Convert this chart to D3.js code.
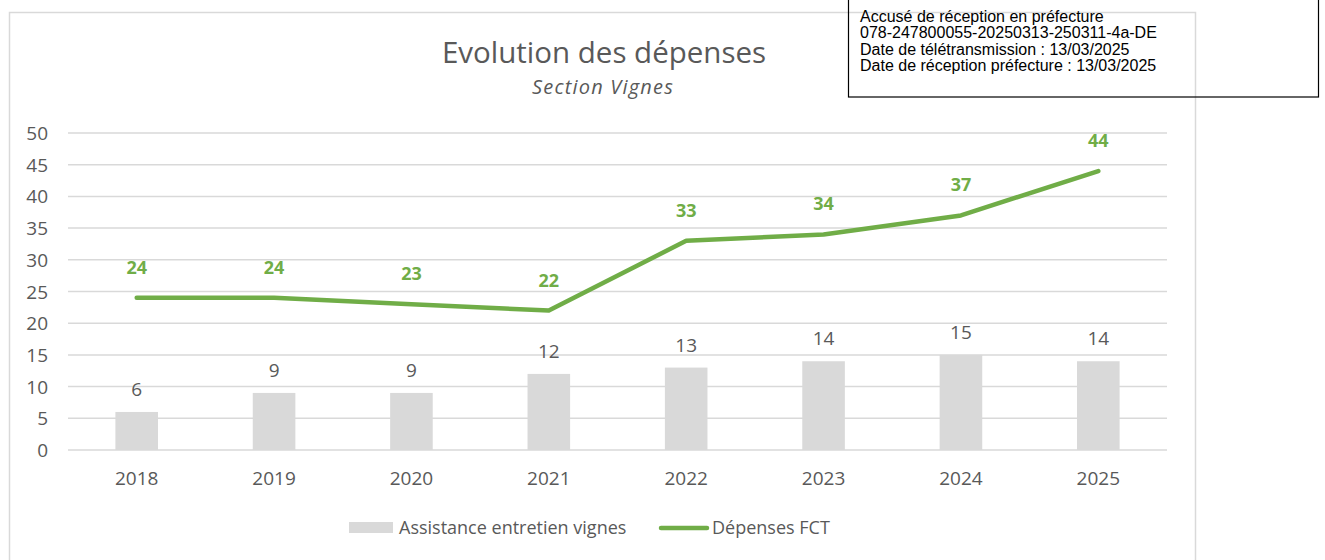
<!DOCTYPE html>
<html lang="fr">
<head>
    <meta charset="UTF-8">
    <title>Evolution des dépenses</title>
    <script src="https://cdn.jsdelivr.net/npm/d3@7"></script>
    <style>
        body {margin: 0; background: white}
        text {font-family: "Open Sans", Lato, sans-serif; fill: #595959}
        .stamp text {font-family: "Liberation Sans", Arial, sans-serif; fill: black; font-size: 16px}
    </style>
</head>
<body>
<script>
    const years    = ["2018", "2019", "2020", "2021", "2022", "2023", "2024", "2025"];
    const assistance = [6, 9, 9, 12, 13, 14, 15, 14];
    const depenses   = [24, 24, 23, 22, 33, 34, 37, 44];
    const yTicks     = [0, 5, 10, 15, 20, 25, 30, 35, 40, 45, 50];
    const stampLines = [
        "Accusé de réception en préfecture",
        "078-247800055-20250313-250311-4a-DE",
        "Date de télétransmission : 13/03/2025",
        "Date de réception préfecture : 13/03/2025"
    ];

    const width = 1325, height = 560;
    const green = "#70ad47", grey = "#d9d9d9";

    const svg = d3.select("body").append("svg")
        .attr("width", width).attr("height", height);

    // chart frame
    svg.append("rect")
        .attr("x", 9.5).attr("y", 12.5)
        .attr("width", 1186).attr("height", 570)
        .style("fill", "white").style("stroke", grey).style("stroke-width", 1.5);

    const x = d3.scaleBand().domain(years).range([68, 1167])
        .paddingInner(0.69).paddingOuter(0.345);
    const y = d3.scaleLinear().domain([0, 50]).range([450, 133]);
    const cx = d => x(d) + x.bandwidth() / 2;

    // title
    svg.append("text").attr("x", 604).attr("y", 63)
        .style("text-anchor", "middle").style("font-size", "29.5px")
        .text("Evolution des dépenses");
    svg.append("text").attr("x", 603).attr("y", 94)
        .style("text-anchor", "middle").style("font-size", "20px").style("font-style", "italic")
        .style("letter-spacing", "1.2px")
        .text("Section Vignes");

    // gridlines + y labels
    svg.append("g").selectAll("line").data(yTicks).join("line")
        .attr("x1", 68).attr("x2", 1167)
        .attr("y1", d => y(d)).attr("y2", d => y(d))
        .style("stroke", grey).style("stroke-width", 1.5);

    svg.append("g").selectAll("text").data(yTicks).join("text")
        .attr("x", 48).attr("y", d => y(d) + 7)
        .style("text-anchor", "end").style("font-size", "19px")
        .text(d => d);

    // x labels
    svg.append("g").selectAll("text").data(years).join("text")
        .attr("x", cx).attr("y", 485)
        .style("text-anchor", "middle").style("font-size", "19px")
        .text(d => d);

    // bars
    svg.append("g").selectAll("rect").data(years).join("rect")
        .attr("x", d => x(d)).attr("width", x.bandwidth())
        .attr("y", (d, i) => y(assistance[i]))
        .attr("height", (d, i) => y(0) - y(assistance[i]))
        .style("fill", grey);

    svg.append("g").selectAll("text").data(years).join("text")
        .attr("x", cx).attr("y", (d, i) => y(assistance[i]) - 16)
        .style("text-anchor", "middle").style("font-size", "19px")
        .text((d, i) => assistance[i]);

    // line
    const line = d3.line().x(d => cx(d[0])).y(d => y(d[1]));
    svg.append("path")
        .datum(years.map((d, i) => [d, depenses[i]]))
        .attr("d", line)
        .style("fill", "none").style("stroke", green)
        .style("stroke-width", 4.5).style("stroke-linecap", "round").style("stroke-linejoin", "round");

    svg.append("g").selectAll("text").data(years).join("text")
        .attr("x", cx).attr("y", (d, i) => y(depenses[i]) - 24)
        .style("text-anchor", "middle").style("font-size", "18px").style("font-weight", "bold")
        .style("fill", green)
        .text((d, i) => depenses[i]);

    // legend
    const legend = svg.append("g");
    legend.append("rect").attr("x", 349).attr("y", 522).attr("width", 44).attr("height", 11)
        .style("fill", grey);
    legend.append("text").attr("x", 399).attr("y", 534).style("font-size", "18px")
        .text("Assistance entretien vignes");
    legend.append("line").attr("x1", 661).attr("x2", 707).attr("y1", 528).attr("y2", 528)
        .style("stroke", green).style("stroke-width", 4.5).style("stroke-linecap", "round");
    legend.append("text").attr("x", 712).attr("y", 534).style("font-size", "18px")
        .text("Dépenses FCT");

    // reception stamp
    const stamp = svg.append("g").attr("class", "stamp");
    stamp.append("rect").attr("x", 848.5).attr("y", -2)
        .attr("width", 470).attr("height", 99)
        .style("fill", "none").style("stroke", "black").style("stroke-width", 1.2);
    stamp.selectAll("text").data(stampLines).join("text")
        .attr("x", 860).attr("y", (d, i) => 22 + i * 16.4)
        .text(d => d);
</script>
</body>
</html>
